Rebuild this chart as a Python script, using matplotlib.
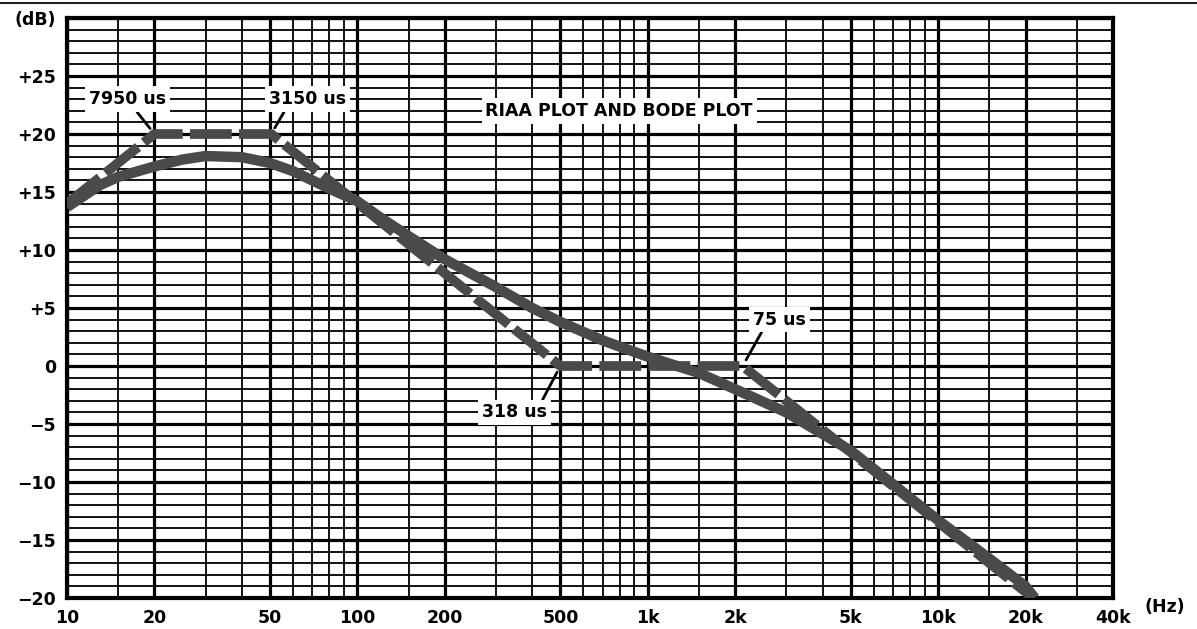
import numpy as np
import matplotlib
matplotlib.use("Agg")
import matplotlib.pyplot as plt
from matplotlib.lines import Line2D

# ---------------- data ----------------
riaa_freq = [10, 13, 15, 20, 25, 30, 40, 50, 60, 80, 100, 120, 150, 200, 300,
             400, 500, 700, 1000, 1500, 2000, 3000, 5000, 7000, 10000, 15000,
             20000, 21500]
riaa_db = [13.7, 15.6, 16.3, 17.2, 17.8, 18.1, 18.0, 17.5, 16.8, 15.3, 14.2,
           12.8, 11.2, 9.2, 6.8, 5.0, 3.8, 2.2, 0.8, -0.6, -2.0, -4.0, -7.3,
           -10.2, -13.3, -16.6, -19.0, -20.0]

bode_freq = [10, 20, 50.5, 500, 2122, 21220]
bode_db = [14, 20, 20, 0, 0, -20]

x_major = [10, 20, 50, 100, 200, 500, 1000, 2000, 5000, 10000, 20000, 40000]
x_labels = ["10", "20", "50", "100", "200", "500", "1k", "2k", "5k", "10k", "20k", "40k"]
x_minor = [15, 30, 40, 60, 70, 80, 90, 150, 300, 400, 600, 700, 800, 900,
           1500, 3000, 4000, 6000, 7000, 8000, 9000, 15000, 30000]

y_major = [-20, -15, -10, -5, 0, 5, 10, 15, 20, 25, 30]
y_labels = ["\u221220", "\u221215", "\u221210", "\u22125", "0", "+5", "+10",
            "+15", "+20", "+25", "(dB)"]
y_minor = [v for v in range(-20, 31) if v % 5 != 0]

# annotations: (text, text_freq, text_db, corner index in bode arrays, relpos)
notes = [
    ("7950 us", 16.2, 23, 1, (0.58, 0.0)),
    ("3150 us", 67.5, 23, 2, (0.22, 0.0)),
    ("318 us", 348, -4, 3, (0.9, 1.0)),
    ("75 us", 2841, 4, 4, (0.2, 0.0)),
]
title_text = "RIAA PLOT AND BODE PLOT"

# ---------------- figure ----------------
plt.rcParams['font.family'] = ['DejaVu Sans']
fig = plt.figure(figsize=(11.97, 6.29), dpi=100)
ax = fig.add_axes([67 / 1197, 1 - 598 / 629, (1113 - 67) / 1197, (598 - 18) / 629])

ax.set_xscale("log")
ax.set_xlim(10, 40000)
ax.set_ylim(-20, 30)

ax.set_xticks(x_major)
ax.set_xticklabels(x_labels)
ax.set_xticks(x_minor, minor=True)
ax.set_xticklabels([], minor=True)
ax.set_yticks(y_major)
ax.set_yticklabels(y_labels)
ax.set_yticks(y_minor, minor=True)

ax.tick_params(which="both", length=0)
ax.tick_params(axis="x", which="major", pad=8, labelsize=12.5)
ax.tick_params(axis="y", which="major", pad=8, labelsize=12.5)
for lab in ax.get_xticklabels() + ax.get_yticklabels():
    lab.set_fontweight("bold")

ax.grid(True, which="major", color="black", lw=2.3)
ax.grid(True, which="minor", color="black", lw=1.3)
ax.set_axisbelow(True)
for sp in ax.spines.values():
    sp.set_linewidth(3)
    sp.set_color("black")

curve_color = "#4a4a4a"
ax.plot(riaa_freq, riaa_db, color=curve_color, lw=7.5, solid_capstyle="butt",
        solid_joinstyle="round", zorder=3)
ax.plot(bode_freq, bode_db, color=curve_color, lw=7, linestyle=(0, (4.3, 0.75)),
        dash_capstyle="butt", dash_joinstyle="round", zorder=3)

box = dict(boxstyle="square,pad=0.22", fc="white", ec="none")
for txt, tf, tdb, idx, rp in notes:
    ax.annotate(txt, xy=(bode_freq[idx], bode_db[idx]), xytext=(tf, tdb),
                textcoords="data", ha="center", va="center", fontsize=12.5,
                fontweight="bold", bbox=box, zorder=5,
                arrowprops=dict(arrowstyle="-", color="black", lw=2,
                                relpos=rp, shrinkA=0, shrinkB=5))

ax.text(797, 22, title_text, ha="center", va="center", fontsize=12.5,
        fontweight="bold", bbox=box, zorder=5)

fig.text(1165 / 1197, 1 - 607 / 629, "(Hz)", ha="center", va="center",
         fontsize=12.5, fontweight="bold")

# page edge line from the scan
fig.add_artist(Line2D([0, 1], [1 - 3 / 629, 1 - 3 / 629], color="#222222", lw=1.5))

fig.savefig("out.png", dpi=100, facecolor="white")
